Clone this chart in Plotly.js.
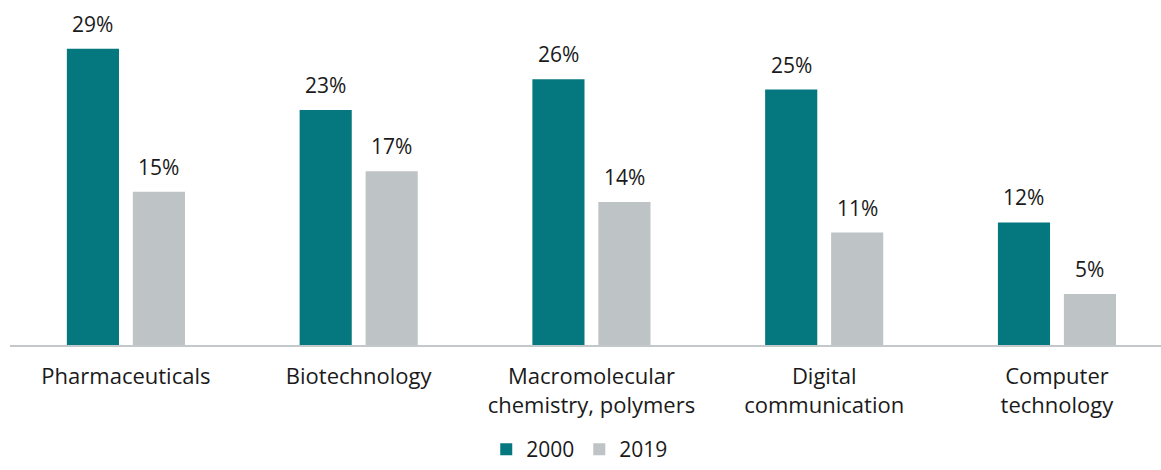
<!DOCTYPE html>
<html><head><meta charset="utf-8">
<script src="https://cdn.plot.ly/plotly-3.0.1.min.js"></script>
<style>html,body{margin:0;padding:0;background:#fff}</style>
</head><body>
<div id="chart" style="width:1161px;height:470px"></div>
<script>
const categories = ["Pharmaceuticals", "Biotechnology", "Macromolecular<br>chemistry, polymers", "Digital<br>communication", "Computer<br>technology"];
const values2000 = [29, 23, 26, 25, 12];
const values2019 = [15, 17, 14, 11, 5];
const seriesNames = ["2000", "2019"];
const colors = ["#05777e", "#bec3c5"];

const FONT = "'Open Sans', sans-serif";
const traces = [values2000, values2019].map((vals, i) => ({
  type: "bar", name: seriesNames[i], x: categories, y: vals,
  marker: {color: colors[i]}, hoverinfo: "skip"
}));

const annotations = [];
[values2000, values2019].forEach((vals, i) => {
  vals.forEach((v, j) => {
    annotations.push({
      x: categories[j], y: v, xref: "x", yref: "y",
      text: v + "%", showarrow: false, xshift: i === 0 ? -33 : 33,
      yshift: 25, yanchor: "middle",
      font: {family: FONT, size: 21, color: "#1a1a1a"}
    });
  });
});

const layout = {
  width: 1161, height: 470,
  margin: {l: 10, r: 0, t: 15, b: 125, autoexpand: false},
  paper_bgcolor: "#fff", plot_bgcolor: "#fff",
  barmode: "group", bargap: 0.433, bargroupgap: 0.21,
  showlegend: true,
  legend: {orientation: "h", x: 0.495, xanchor: "center", yref: "container", y: 0.0, yanchor: "bottom",
           font: {family: FONT, size: 21, color: "#1a1a1a"}, traceorder: "normal"},
  xaxis: {type: "category", range: [-0.498, 4.447], showline: true, linecolor: "#c3c8ca", linewidth: 2,
          ticks: "", ticklabelstandoff: 11, tickfont: {family: FONT, size: 22, color: "#1a1a1a"}, showgrid: false, fixedrange: true},
  yaxis: {range: [0, 32.3], visible: false, showgrid: false, zeroline: false, fixedrange: true},
  annotations: annotations,
  font: {family: FONT}
};
Plotly.newPlot("chart", traces, layout, {displayModeBar: false, staticPlot: true});
</script>
</body></html>
